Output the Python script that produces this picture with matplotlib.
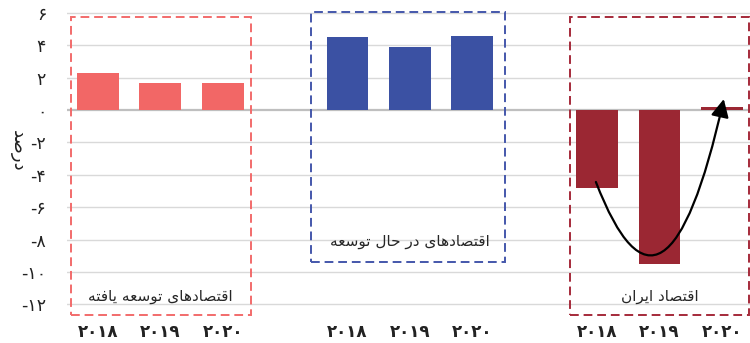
import numpy as np
import matplotlib
matplotlib.use("Agg")
from matplotlib import pyplot as plt
from matplotlib.patches import Rectangle, FancyArrowPatch
from matplotlib.path import Path

# رشد اقتصادی (درصد)
years = ['2018', '2019', '2020']
developed = [2.3, 1.7, 1.7]        # اقتصادهای توسعه یافته
developing = [4.5, 3.9, 4.6]       # اقتصادهای در حال توسعه
iran = [-4.8, -9.5, 0.2]           # اقتصاد ایران
group_names = ['اقتصادهای توسعه یافته', 'اقتصادهای در حال توسعه', 'اقتصاد ایران']
y_label = 'درصد'
y_ticks = list(range(-12, 7, 2))

# --- شکل‌دهی ساده حروف فارسی (matplotlib خودش اتصال حروف را انجام نمی‌دهد)
# (منفرد، پایانی، آغازی، میانی)
FORMS = {
    'ا': ('\uFE8D', '\uFE8E', None, None),
    'د': ('\uFEA9', '\uFEAA', None, None),
    'ر': ('\uFEAD', '\uFEAE', None, None),
    'و': ('\uFEED', '\uFEEE', None, None),
    'ق': ('\uFED5', '\uFED6', '\uFED7', '\uFED8'),
    'ت': ('\uFE95', '\uFE96', '\uFE97', '\uFE98'),
    'ص': ('\uFEB9', '\uFEBA', '\uFEBB', '\uFEBC'),
    'ه': ('\uFEE9', '\uFEEA', '\uFEEB', '\uFEEC'),
    'ی': ('\uFEEF', '\uFEF0', '\uFEF3', '\uFEF4'),
    'س': ('\uFEB1', '\uFEB2', '\uFEB3', '\uFEB4'),
    'ع': ('\uFEC9', '\uFECA', '\uFECB', '\uFECC'),
    'ف': ('\uFED1', '\uFED2', '\uFED3', '\uFED4'),
    'ح': ('\uFEA1', '\uFEA2', '\uFEA3', '\uFEA4'),
    'ل': ('\uFEDD', '\uFEDE', '\uFEDF', '\uFEE0'),
    'ن': ('\uFEE5', '\uFEE6', '\uFEE7', '\uFEE8'),
}


def joins_left(ch):
    return ch in FORMS and FORMS[ch][2] is not None


def fa(text):
    out = []
    i = 0
    n = len(text)
    while i < n:
        ch = text[i]
        prev = text[i - 1] if i > 0 else ' '
        if ch not in FORMS:
            out.append(ch)
            i += 1
            continue
        # لام الف
        if ch == 'ل' and i + 1 < n and text[i + 1] == 'ا':
            out.append('\uFEFC' if joins_left(prev) else '\uFEFB')
            i += 2
            continue
        nxt = text[i + 1] if i + 1 < n else ' '
        p = joins_left(prev)
        q = joins_left(ch) and nxt in FORMS
        iso, fin, ini, med = FORMS[ch]
        if p and q:
            out.append(med)
        elif p:
            out.append(fin)
        elif q:
            out.append(ini)
        else:
            out.append(iso)
        i += 1
    return ''.join(reversed(out))


def fa_num(s):
    return s.translate(str.maketrans('0123456789', '۰۱۲۳۴۵۶۷۸۹'))


plt.rcParams['font.family'] = ['DejaVu Sans']

fig = plt.figure(figsize=(7.5, 3.43), dpi=100)
ax = fig.add_axes([67 / 750, 0.0746, 683 / 750, 0.8974])

x_dev = np.array([0, 1, 2])
x_ing = np.array([4, 5, 6])
x_ir = np.array([8, 9, 10])
w = 0.67

ax.bar(x_dev, developed, w, color='#F26766', zorder=3)
ax.bar(x_ing, developing, w, color='#3B51A3', zorder=3)
ax.bar(x_ir, iran, w, color='#9B2733', zorder=3)

ax.set_xlim(-0.497, 10.45)
ax.set_ylim(-12.8, 6.2)

for t in y_ticks:
    if t == 0:
        ax.axhline(0, color='#BFBFBF', lw=1.6, zorder=2)
    else:
        ax.axhline(t, color='#D9D9D9', lw=1.0, zorder=1)

ax.set_yticks(y_ticks)
ax.set_yticklabels([('-' + fa_num(str(-t))) if t < 0 else fa_num(str(t)) for t in y_ticks],
                   fontsize=12.5)
ax.set_xticks(np.concatenate([x_dev, x_ing, x_ir]))
ax.set_xticklabels([fa_num(y) for y in years] * 3, fontsize=12, fontweight='bold')
ax.tick_params(axis='both', length=0, colors='#222222')
ax.tick_params(axis='y', pad=15)
ax.tick_params(axis='x', pad=4)
for s in ax.spines.values():
    s.set_visible(False)

fig.text(0.024, 0.56, fa(y_label), rotation=270, ha='center', va='center', fontsize=13, color='#222222')

# کادرهای خط‌چین دور هر گروه
boxes = [
    ((-0.43, -12.65), 2.88, 18.39, '#F26B6B'),
    ((3.41, -9.38), 3.11, 15.43, '#4457AB'),
    ((7.56, -12.65), 2.87, 18.39, '#A52A3A'),
]
for (x0, y0), bw, bh, c in boxes:
    ax.add_patch(Rectangle((x0, y0), bw, bh, fill=False, ec=c, lw=1.4,
                           ls=(0, (4.5, 2.5)), clip_on=False, zorder=4))

ax.text(1.0, -11.5, fa(group_names[0]), ha='center', va='center', fontsize=11, color='#262626')
ax.text(5.0, -8.1, fa(group_names[1]), ha='center', va='center', fontsize=11, color='#262626')
ax.text(9.0, -11.5, fa(group_names[2]), ha='center', va='center', fontsize=11, color='#262626')

# پیکان منحنی روی ستون‌های ایران
curve = Path([(7.98, -4.44), (9.09, -15.54), (10.03, 0.68)],
             [Path.MOVETO, Path.CURVE3, Path.CURVE3])
ax.add_patch(FancyArrowPatch(path=curve, arrowstyle='-|>,head_length=0.6,head_width=0.3',
                             mutation_scale=18, lw=1.6, color='black', zorder=5))

fig.savefig('out.png', dpi=100)
